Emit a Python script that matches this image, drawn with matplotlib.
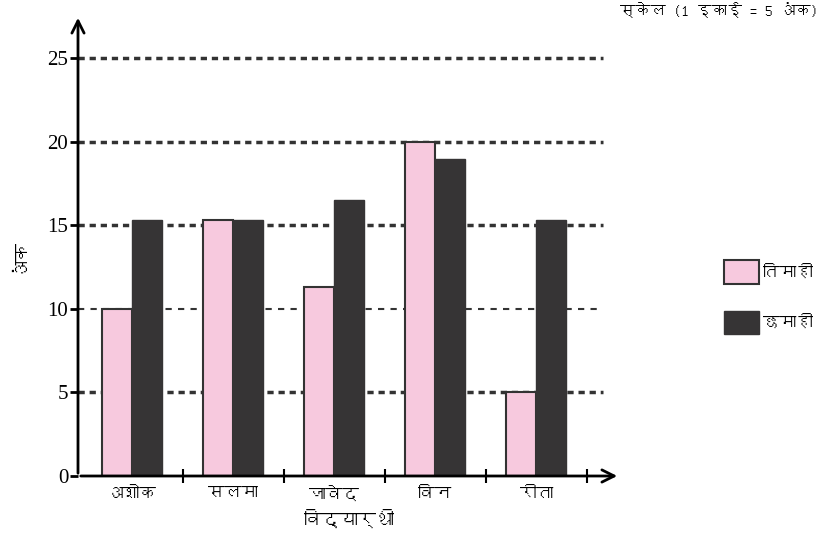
import matplotlib
matplotlib.use("Agg")
import matplotlib.pyplot as plt
from matplotlib import font_manager as fm
from matplotlib.ft2font import FT2Font
from matplotlib.patches import Patch

# data
vidyarthi = ["अशोक", "सलमा", "जावेद", "विन", "रीता"]
timahi = [10, 15.3, 11.3, 20, 5]
chhamahi = [15.3, 15.3, 16.5, 19, 15.3]
y_ticks = [0, 5, 10, 15, 20, 25]


# look for an installed font that has Devanagari glyphs (proportional ones first)
def find_font(ch):
    found = []
    for f in sorted(fm.findSystemFonts()):
        try:
            if ord(ch) in FT2Font(f).get_charmap():
                found.append(f)
        except Exception:
            pass
    found.sort(key=lambda p: ("mono" in p.lower(), "serif" in p.lower(), "bold" in p.lower()))
    return found[0] if found else None


path = find_font("अ")
hindi = ["DejaVu Sans"]
if path:
    fm.fontManager.addfont(path)
    hindi = [fm.FontProperties(fname=path).get_name(), "DejaVu Sans"]

pink = "#f7c9de"
dark = "#363435"

fig = plt.figure(figsize=(8.39, 5.51), dpi=100)
ax = fig.add_axes([78 / 839, 75 / 551, 542 / 839, 461 / 551])
ax.set_xlim(-0.535, 4.83)
ax.set_ylim(0, 27.6)

x = list(range(len(vidyarthi)))
w = 0.3

# dashed horizontal lines
for v in [5, 15, 20, 25]:
    ax.axhline(v, xmin=0, xmax=0.969, color="#333333", lw=2.5, dashes=(1.8, 1.4), zorder=1)
ax.axhline(10, xmin=0, xmax=0.969, color="#333333", lw=1.5, dashes=(3, 3), zorder=1)

ax.bar([i - w / 2 for i in x], timahi, w, color=pink, edgecolor="#333333", lw=1.5, zorder=2)
ax.bar([i + w / 2 for i in x], chhamahi, w, color=dark, edgecolor=dark, lw=1, zorder=2)

for s in ax.spines.values():
    s.set_visible(False)

# axes with arrows
ax.annotate("", xy=(4.83, 0), xytext=(-0.535, 0),
            arrowprops=dict(arrowstyle="->", lw=2, color="black", mutation_scale=22),
            annotation_clip=False, zorder=5)
ax.annotate("", xy=(-0.535, 27.6), xytext=(-0.535, 0),
            arrowprops=dict(arrowstyle="->", lw=2, color="black", mutation_scale=22),
            annotation_clip=False, zorder=5)

ax.set_yticks(y_ticks)
ax.set_yticklabels([str(t) for t in y_ticks], family="Liberation Serif", fontsize=15)
ax.tick_params(axis="y", direction="out", length=6, width=2, pad=1)

ax.set_xticks(x)
ax.set_xticklabels(vidyarthi, family=hindi, fontsize=12)
ax.tick_params(axis="x", which="major", length=0, pad=8)
ax.set_xticks([i + 0.5 for i in x], minor=True)
ax.tick_params(axis="x", which="minor", direction="inout", length=10, width=1.5)

ax.set_xlabel("विद्यार्थी", family=hindi, fontsize=13, labelpad=4)
fig.text(18 / 839, 1 - 255 / 551, "अंक", family=hindi, fontsize=13,
         rotation=90, ha="center", va="center")

handles = [Patch(facecolor=pink, edgecolor="#333333", lw=1.5),
           Patch(facecolor=dark, edgecolor=dark)]
fig.legend(handles, ["तिमाही", "छमाही"], prop=dict(family=hindi, size=12),
           loc="upper left", bbox_to_anchor=(716 / 839, 1 - 252 / 551),
           frameon=False, handlelength=2.1, handleheight=1.8,
           labelspacing=1.6, handletextpad=0.2, borderpad=0)

fig.text(620 / 839, 1 - 2 / 551, "स्केल (1 इकाई = 5 अंक)", family=hindi,
         fontsize=11, ha="left", va="top")

fig.savefig("out.png", dpi=100)
